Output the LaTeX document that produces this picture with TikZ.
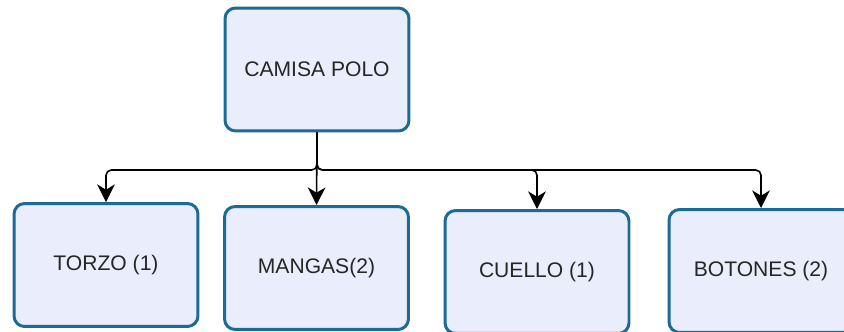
\documentclass[tikz,border=0pt]{standalone}
\usepackage{fontspec}
\setmainfont{Liberation Sans}
\definecolor{bordeAzul}{RGB}{28,106,152}
\definecolor{rellenoLila}{RGB}{234,237,251}
\usetikzlibrary{arrows.meta,positioning}

\begin{document}
\begin{tikzpicture}[x=0.02cm,y=-0.02cm,
        caja/.style={rectangle,rounded corners=6pt,draw=bordeAzul,fill=rellenoLila,
                     line width=1.7pt,minimum width=3.68cm,minimum height=2.46cm,
                     font=\fontsize{12}{14}\selectfont,text=black!85},
        rama/.style={-{Stealth[length=10pt,width=10pt,inset=3pt]},line width=0.9pt,black,
                     rounded corners=3pt}]
        \useasboundingbox (0,0) rectangle (844,331);
        \node[caja] (polo)    at (317,69.5)  {CAMISA POLO};
        \node[caja] (torzo)   at (106,265)   {TORZO (1)};
        \node[caja] (mangas)  at (316.5,268) {MANGAS(2)};
        \node[caja] (cuello)  at (537,272)   {CUELLO (1)};
        \node[caja] (botones) at (761,271)   {BOTONES (2)};
        \coordinate (bus) at (317,170);
        \draw[rama] (polo.south) -- (bus) -| (torzo.north);
        \draw[rama] (polo.south) -- (mangas.north);
        \draw[rama] (polo.south) -- (bus) -| (cuello.north);
        \draw[rama] (polo.south) -- (bus) -| (botones.north);
\end{tikzpicture}
\end{document}
